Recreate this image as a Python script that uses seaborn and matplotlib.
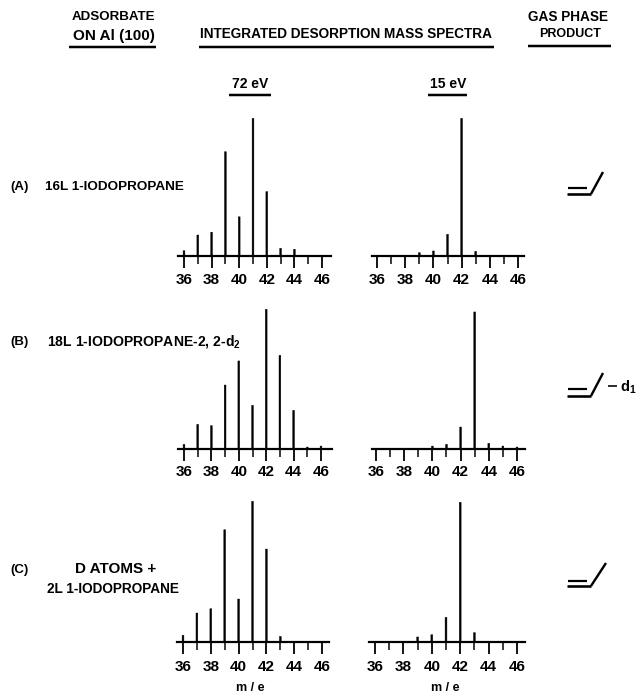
import matplotlib
matplotlib.use("Agg")
import matplotlib.pyplot as plt
import seaborn as sns
import pandas as pd
from matplotlib.lines import Line2D

W, H = 638, 696
mass = list(range(36, 47))
tick_labels = [36, 38, 40, 42, 44, 46]
odd_ticks = [37, 39, 41, 43, 45]

a_72 = [3.8, 15, 17, 74.5, 28, 98.3, 46, 5.5, 4.8, 0, 0]
a_15 = [0, 0, 0, 2.4, 3.6, 15.5, 98.3, 3.3, 0, 0, 0]
b_72 = [3.3, 17.6, 16.7, 45.7, 62.9, 31.2, 99.8, 66.9, 27.6, 1.4, 2.1]
b_15 = [0, 0, 0, 0, 2.1, 3.3, 15.7, 97.9, 4, 2.1, 1.4]
c_72 = [4.8, 20.7, 23.8, 80.2, 30.7, 100.5, 66.4, 4, 0, 0, 0]
c_15 = [0, 0, 0, 3.6, 5.2, 17.6, 99.8, 6.7, 0, 0, 0]

sns.set_theme(style="white")
plt.rcParams["font.family"] = ["Liberation Sans", "DejaVu Sans"]
plt.rcParams["font.weight"] = "bold"
plt.rcParams["mathtext.fontset"] = "custom"
plt.rcParams["mathtext.bf"] = "Liberation Sans:bold"

fig = plt.figure(figsize=(W / 100, H / 100), dpi=100, facecolor="white")
PX = 0.72  # points per pixel


def panel(values, x36, x46, x_left, x_right, base_y, label_y):
    unit = (x46 - x36) / 10
    ax = fig.add_axes([x_left / W, 1 - base_y / H, (x_right - x_left) / W, 147 / H])
    df = pd.DataFrame({"m/e": mass, "intensity": values})
    sns.barplot(data=df, x="m/e", y="intensity", color="black", native_scale=True,
                width=0.13, saturation=1, edgecolor="black", linewidth=0.3, ax=ax)
    for p in ax.patches:
        p.set_snap(False)
    ax.set_xlim(36 - (x36 - x_left) / unit, 36 + (x_right - x36) / unit)
    ax.set_ylim(0, 105)
    ax.patch.set_alpha(0)
    sns.despine(ax=ax, left=True)
    ax.spines["bottom"].set_linewidth(2.2 * PX)
    ax.spines["bottom"].set_color("black")
    ax.set_xlabel("")
    ax.set_ylabel("")
    ax.set_yticks([])
    ax.set_xticks(tick_labels)
    ax.set_xticklabels([])
    ax.set_xticks(odd_ticks, minor=True)
    ax.tick_params(axis="x", which="major", length=12 * PX, width=1.8 * PX, color="black", bottom=True)
    ax.tick_params(axis="x", which="minor", length=8 * PX, width=1.5 * PX, color="black", bottom=True)
    for t in tick_labels:
        px = x36 + (t - 36) * unit
        fig.text(px / W, 1 - label_y / H, str(t), ha="center", va="center",
                 fontsize=11, fontweight="bold", color="black")


panel(a_72, 184, 322, 178, 331, 256, 280)
panel(a_15, 377, 518, 372, 524, 256, 280)
panel(b_72, 184, 321, 178, 332, 449, 472)
panel(b_15, 376, 517, 372, 525, 449, 472)
panel(c_72, 183, 322, 177, 329, 642, 667)
panel(c_15, 375, 517, 369, 525, 642, 667)


def txt(x, y, s, ha="left", size=10, **kw):
    fig.text(x / W, 1 - y / H, s, ha=ha, va="center", fontsize=size,
             fontweight="bold", color="black", **kw)


def seg(xs, ys, lw=2.0):
    fig.add_artist(Line2D([x / W for x in xs], [1 - y / H for y in ys],
                          color="black", lw=lw * PX, solid_capstyle="butt"))


txt(113.5, 17, "ADSORBATE", "center", 9.6)
txt(113.5, 36, "ON Al (100)", "center", 11)
seg([69, 156], [47, 47], 2.5)
txt(346, 34, "INTEGRATED DESORPTION MASS SPECTRA", "center", 9.85)
seg([199, 494], [47, 47], 2.5)
txt(567.5, 17, "GAS PHASE", "center", 9.8)
txt(570, 34, "PRODUCT", "center", 9)
seg([528, 611], [46, 46], 2.5)
txt(250, 84, "72 eV", "center", 10)
seg([229, 271], [95, 95], 2.5)
txt(448, 84, "15 eV", "center", 10)
seg([428, 467], [95, 95], 2.5)

txt(10, 187, "(A)", size=9.5)
txt(45, 187, "16L 1-IODOPROPANE", size=9.7)
txt(10, 342, "(B)", size=9.5)
txt(47, 342, "18L 1-IODOPROPANE-2, 2-d$\\mathbf{_2}$", size=10.1)
txt(10, 570, "(C)", size=9.5)
txt(116, 569, "D ATOMS +", "center", 11)
txt(47, 589, "2L 1-IODOPROPANE", size=9.8)
txt(250, 688, "m / e", "center", 9)
txt(445, 688, "m / e", "center", 9)


def alkene(y_top, y_bot, y_end, x_end):
    seg([568, 587], [y_top, y_top], 2.2)
    seg([567, 591], [y_bot, y_bot], 2.6)
    seg([591, x_end], [y_bot, y_end], 2.4)


alkene(188, 194, 172, 603)
alkene(389, 396, 373, 603)
alkene(581, 586, 563, 606)
seg([608, 617], [386, 386], 1.6)
txt(620, 387, "d$\\mathbf{_1}$", size=10.5)

fig.savefig("out.png", dpi=100, facecolor="white")
